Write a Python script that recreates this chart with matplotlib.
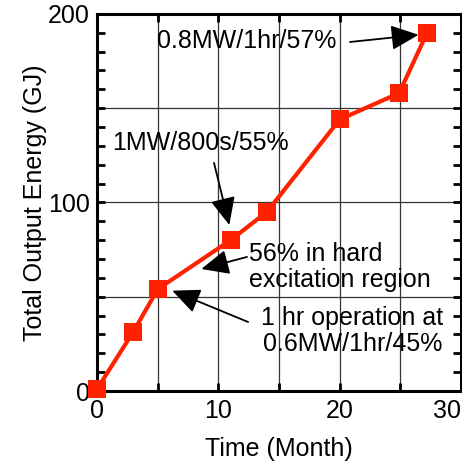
import matplotlib
matplotlib.use('Agg')
import matplotlib.pyplot as plt
from matplotlib.ticker import MultipleLocator, FuncFormatter

# Data
months = [0.0, 3.0, 5.0, 11.0, 14.0, 20.0, 24.9, 27.2]
energy_gj = [1.0, 31.5, 54.0, 80.0, 95.0, 144.0, 158.0, 190.0]

# annotations: text, text anchor, arrow tail, arrow tip (data coords)
notes = [
    ('0.8MW/1hr/57%', (4.95, 185.5), 'left', (20.85, 185.1), (26.5, 188.9)),
    ('1MW/800s/55%', (1.24, 131.6), 'left', (9.64, 121.0), (10.9, 88.0)),
    ('56% in hard\nexcitation region', (12.5, 66.0), 'left', (12.36, 71.1), (8.6, 64.7)),
    ('1 hr operation at\n0.6MW/1hr/45%', (28.5, 31.6), 'right', (12.45, 36.6), (6.2, 53.2)),
]

plt.rcParams['font.family'] = ['Liberation Sans', 'DejaVu Sans']

fig = plt.figure(figsize=(4.62, 4.63), dpi=100)
ax = fig.add_axes([0.210, 0.1555, 0.788, 0.8145])

red = '#ff2200'
ax.plot(months, energy_gj, color=red, lw=3, marker='s', markersize=13,
        markeredgewidth=0, zorder=3, clip_on=False)

ax.set_xlim(0, 30)
ax.set_ylim(0, 200)

# x: ticks every 5 months, labels every 10
ax.xaxis.set_major_locator(MultipleLocator(5))
ax.xaxis.set_major_formatter(FuncFormatter(
    lambda v, p: '%d' % v if int(round(v)) % 10 == 0 else ''))
# y: gridlines every 50, minor ticks every 10, labels every 100
ax.yaxis.set_major_locator(MultipleLocator(50))
ax.yaxis.set_minor_locator(MultipleLocator(10))
ax.yaxis.set_major_formatter(FuncFormatter(
    lambda v, p: '%d' % v if int(round(v)) % 100 == 0 else ''))

ax.tick_params(which='both', direction='in', top=True, right=True,
               length=6, width=2, labelsize=18, color='black')
ax.tick_params(axis='x', pad=6)
ax.tick_params(axis='y', pad=5)
for lab in ax.get_xticklabels():
    if lab.get_text() == '30':
        lab.set_ha('right')

ax.grid(True, which='major', color='#333333', lw=0.9)
ax.set_axisbelow(True)
for sp in ax.spines.values():
    sp.set_linewidth(2.2)

ax.set_xlabel('Time (Month)', fontsize=18, labelpad=10)
ax.set_ylabel('Total Output Energy (GJ)', fontsize=18, labelpad=1)

for text, pos, ha, tail, tip in notes:
    ax.text(pos[0], pos[1], text, ha=ha, va='center', fontsize=18,
            multialignment=ha, linespacing=1.1, zorder=4)
    ax.annotate('', xy=tip, xytext=tail,
                arrowprops=dict(arrowstyle='-|>,head_length=1.0,head_width=0.45',
                                mutation_scale=17, color='black', lw=1.3,
                                shrinkA=0, shrinkB=0), zorder=4)

plt.savefig('out.png', dpi=100)
